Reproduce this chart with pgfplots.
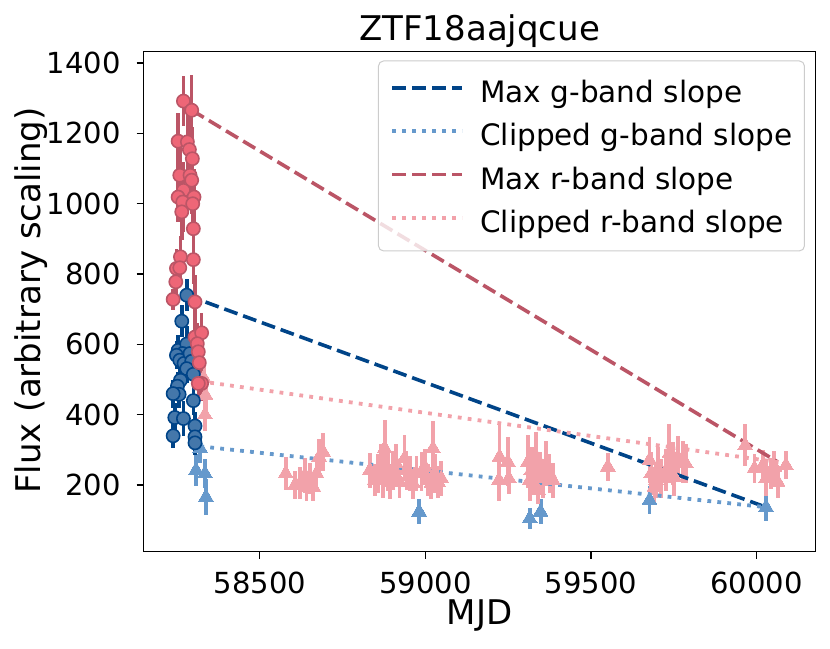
\documentclass[border=0pt]{standalone}
\usepackage{pgfplots}
\pgfplotsset{compat=1.18}
\usepackage{fontspec}
\setmainfont{DejaVu Sans}
\definecolor{gdark}{HTML}{004488}
\definecolor{gfill}{HTML}{4477AA}
\definecolor{glight}{HTML}{6699CC}
\definecolor{rdark}{HTML}{BB5566}
\definecolor{rfill}{HTML}{EE6677}
\definecolor{rlight}{HTML}{F2A2AA}

\pgfplotstableread{
x y e
58269 1292 70
58294 1266 100
58253 1178 80
58281 1176 90
58287 1154 100
58296 1128 90
58258 1081 80
58289 1081 85
58294 1067 95
58269 1038 80
58253 1019 70
58301 1019 80
58267 1005 85
58297 1000 90
58264 977 80
58299 929 85
58260 849 60
58248 816 55
58258 818 50
58246 778 50
58299 841 70
58238 728 30
58304 721 75
58304 621 65
58324 633 55
58311 602 60
58314 579 55
58317 548 60
58324 489 50
58314 489 50
}\rdet

\pgfplotstableread{
x y e
58279 740 45
58264 666 45
58253 583 45
58279 601 50
58267 574 40
58248 569 40
58258 555 45
58271 546 45
58289 574 50
58294 552 45
58279 531 40
58299 515 45
58260 498 40
58251 481 40
58256 458 40
58238 460 40
58299 440 40
58243 392 40
58269 389 50
58304 368 40
58304 337 35
58238 340 35
58304 320 35
}\gdet

\pgfplotstableread{
x y e
58320 304 40
58307 242 45
58334 233 40
58337 166 50
58981 124 35
59315 105 30
59348 124 35
59677 157 40
60029 137 40
}\glim

\pgfplotstableread{
x y e
58330 505 45
58336 455 50
58334 400 45
58578 233 47
58606 200 40
58621 205 45
58636 228 50
58641 195 40
58651 219 45
58661 195 40
58671 233 50
58691 294 55
58679 280 50
58832 242 50
58847 214 45
58857 233 55
58867 261 55
58877 304 80
58872 214 50
58887 242 60
58892 209 50
58902 242 55
58912 261 55
58922 209 45
58937 276 65
58943 242 55
58953 233 50
58963 205 45
58973 233 50
58988 238 55
58998 252 50
59008 214 45
59023 304 78
59028 233 55
59038 209 45
59048 219 50
59018 205 45
59224 280 90
59222 214 60
59249 266 70
59252 219 45
59310 266 75
59315 214 60
59320 242 65
59335 280 70
59340 186 40
59345 233 60
59355 219 55
59365 261 65
59375 233 55
59385 214 50
59330 247 60
59551 252 40
59677 271 65
59682 233 60
59692 195 50
59702 247 60
59712 219 55
59727 242 60
59737 290 85
59747 261 60
59752 223 55
59762 280 60
59777 266 60
59787 261 55
59697 214 50
59966 313 60
59994 247 40
60019 256 45
60029 219 50
60044 233 45
60054 252 45
60064 209 45
60089 256 40
}\rlim

\begin{document}
\begin{tikzpicture}
\begin{axis}[
  at={(0,0)}, anchor=south west,
  scale only axis, width=672pt, height=500pt,
  xmin=58149, xmax=60179, ymin=11, ymax=1433,
  xtick={58500,59000,59500,60000},
  ytick={200,400,600,800,1000,1200,1400},
  scaled x ticks=false, scaled y ticks=false,
  xticklabel={\pgfmathprintnumber[fixed,precision=0,1000 sep={},assume math mode=true]{\tick}},
  yticklabel={\pgfmathprintnumber[fixed,precision=0,1000 sep={},assume math mode=true]{\tick}},
  tick pos=left,
  tick align=outside, major tick length=7pt,
  every tick/.style={black, line width=1.2pt},
  axis line style={line width=1.2pt},
  tick label style={font=\fontsize{29}{34}\selectfont, inner sep=0pt},
  xticklabel style={anchor=north},
  yticklabel style={anchor=east},
  xticklabel shift={13.5pt},
  yticklabel shift={15.7pt},
  legend style={at={(0.984,0.982)}, anchor=north east,
    draw=black!20, line width=1pt, rounded corners=5pt,
    fill=white, fill opacity=0.8, text opacity=1,
    font=\fontsize{29.5}{34}\selectfont,
    inner xsep=12pt, inner ysep=11.5pt, row sep=6.3pt,
    nodes={inner sep=0pt, text height=30pt, text depth=7pt},
    column sep=16pt},
  legend cell align=left,
  legend image code/.code={\draw[#1] (0pt,3pt) -- (70pt,3pt);},
]
% upper-limit style triangles
\addplot+[forget plot, only marks, mark=triangle*, mark size=8.5pt,
  color=glight, mark options={fill=glight, draw=glight, line width=0pt},
  error bars/.cd, y dir=both, y explicit, error mark=none,
  error bar style={line width=3.8pt, color=glight}]
  table[x=x, y=y, y error=e] {\glim};
\addplot+[forget plot, only marks, mark=triangle*, mark size=8.5pt,
  color=rlight, mark options={fill=rlight, draw=rlight, line width=0pt},
  error bars/.cd, y dir=both, y explicit, error mark=none,
  error bar style={line width=3.8pt, color=rlight}]
  table[x=x, y=y, y error=e] {\rlim};

% slopes
\addplot[gdark, line width=3.6pt, dash pattern=on 14pt off 6pt] coordinates {(58279,740) (60029,137)};
\addlegendentry{Max g-band slope}
\addplot[glight, line width=3.8pt, dash pattern=on 3.8pt off 6.2pt] coordinates {(58320,310) (60029,137)};
\addlegendentry{Clipped g-band slope}
\addplot[rdark, line width=3.6pt, dash pattern=on 14pt off 6pt] coordinates {(58294,1266) (60064,266)};
\addlegendentry{Max r-band slope}
\addplot[rlight, line width=3.8pt, dash pattern=on 3.8pt off 6.2pt] coordinates {(58320,495) (60089,262)};
\addlegendentry{Clipped r-band slope}

% detections
\addplot+[forget plot, only marks, mark=*, mark size=6.6pt,
  color=gdark, mark options={fill=gfill, draw=gdark, line width=1.6pt},
  error bars/.cd, y dir=both, y explicit, error mark=none,
  error bar style={line width=3.6pt, color=gdark}]
  table[x=x, y=y, y error=e] {\gdet};
\addplot+[forget plot, only marks, mark=*, mark size=6.6pt,
  color=rdark, mark options={fill=rfill, draw=rdark, line width=1.6pt},
  error bars/.cd, y dir=both, y explicit, error mark=none,
  error bar style={line width=3.6pt, color=rdark}]
  table[x=x, y=y, y error=e] {\rdet};
\end{axis}
\node[font=\fontsize{34}{40}\selectfont, anchor=base] at (336pt,511pt) {ZTF18aajqcue};
\node[font=\fontsize{34}{40}\selectfont, anchor=base] at (336pt,-73pt) {MJD};
\node[font=\fontsize{34}{40}\selectfont, anchor=base, rotate=90] at (-102.7pt,251pt) {Flux (arbitrary scaling)};
\pgfresetboundingbox
\path (-143.7pt,-96.5pt) rectangle (686.3pt,551.5pt);
\end{tikzpicture}
\end{document}
